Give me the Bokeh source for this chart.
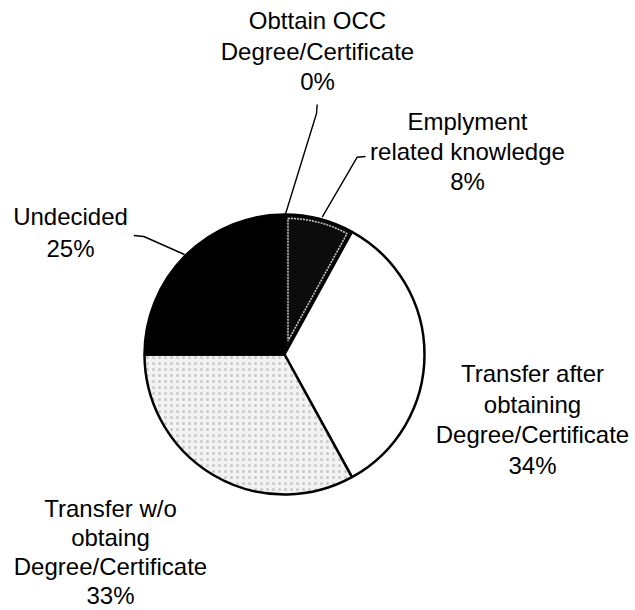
import numpy as np
from bokeh.plotting import figure
from bokeh.models import Range1d, ColumnDataSource
from bokeh.core.properties import value
from bokeh.embed import file_html
from bokeh.resources import INLINE

# ---- data ----
categories = [
    "Obttain OCC\nDegree/Certificate",
    "Emplyment\nrelated knowledge",
    "Transfer after\nobtaining\nDegree/Certificate",
    "Transfer w/o\nobtaing\nDegree/Certificate",
    "Undecided",
]
shares = [0, 8, 34, 33, 25]

# ---- styles / layout (page pixels) ----
fills = ["#000000", "#0c0c0c", "#ffffff", "#f2f2f2", "#000000"]
hatches = [" ", " ", " ", ".", " "]
W, H = 635, 610


def X(px):
    return px


def Y(py):
    return H - py


text_shift = -12
cx, cy, r = X(284), Y(354), 140
label_x = [317, 467, 532, 110, 70]
label_base = [32, 133, 385, 520, 228]
label_step = [30.5, 30, 30.7, 29, 32]
leader_pts = [
    [(316.7, 104), (316, 113), (285, 213.5)],
    [(365, 156), (356.7, 156.7), (321.7, 216.7)],
    [(133.3, 235), (143.3, 236), (184, 254)],
]

p = figure(width=W, height=H, x_range=Range1d(0, W), y_range=Range1d(0, H),
           output_backend="svg", toolbar_location=None, min_border=0)
p.axis.visible = False
p.grid.visible = False
p.outline_line_color = None
p.background_fill_color = "white"

vals = np.array(shares, dtype=float)
frac = vals / vals.sum()
cum = np.cumsum(frac)
start = np.pi / 2 - 2 * np.pi * (cum - frac)
end = np.pi / 2 - 2 * np.pi * cum
keep = vals > 0

src = ColumnDataSource(dict(
    start=start[keep], end=end[keep],
    fill=[f for f, k in zip(fills, keep) if k],
    hatch=[h for h, k in zip(hatches, keep) if k],
))
p.wedge(x=cx, y=cy, radius=r, start_angle="start", end_angle="end",
        direction="clock", fill_color="fill", line_color="black",
        line_width=2.5, hatch_pattern="hatch", hatch_color="#8a8a8a",
        hatch_scale=6, hatch_alpha=0.4, source=src)

# light inner border of the "Emplyment" slice
i = 1
mid = (start[i] + end[i]) / 2
half = (start[i] - end[i]) / 2
d = 3.5
s = d / np.sin(half)
p.wedge(x=cx + s * np.cos(mid), y=cy + s * np.sin(mid), radius=r - s - d,
        start_angle=start[i], end_angle=end[i], direction="clock",
        fill_color=None, line_color="#c9c9c9", line_width=1.5, line_dash="2 1")

# leader lines
p.multi_line(xs=[[X(a) for a, b in pts] for pts in leader_pts],
             ys=[[Y(b) for a, b in pts] for pts in leader_pts],
             line_color="black", line_width=1.4)

# labels
tx, ty, tt = [], [], []
for lab, v, lx, lb, st in zip(categories, shares, label_x, label_base, label_step):
    lines = lab.split("\n") + [f"{v}%"]
    for k, t in enumerate(lines):
        tx.append(X(lx))
        ty.append(Y(lb + text_shift + k * st))
        tt.append(t)
p.text(x=tx, y=ty, text=tt, text_font=value("Liberation Sans"),
       text_font_size="24px", text_align="center",
       text_baseline="alphabetic", text_color="black")

open("out.html", "w").write(file_html(p, INLINE))
